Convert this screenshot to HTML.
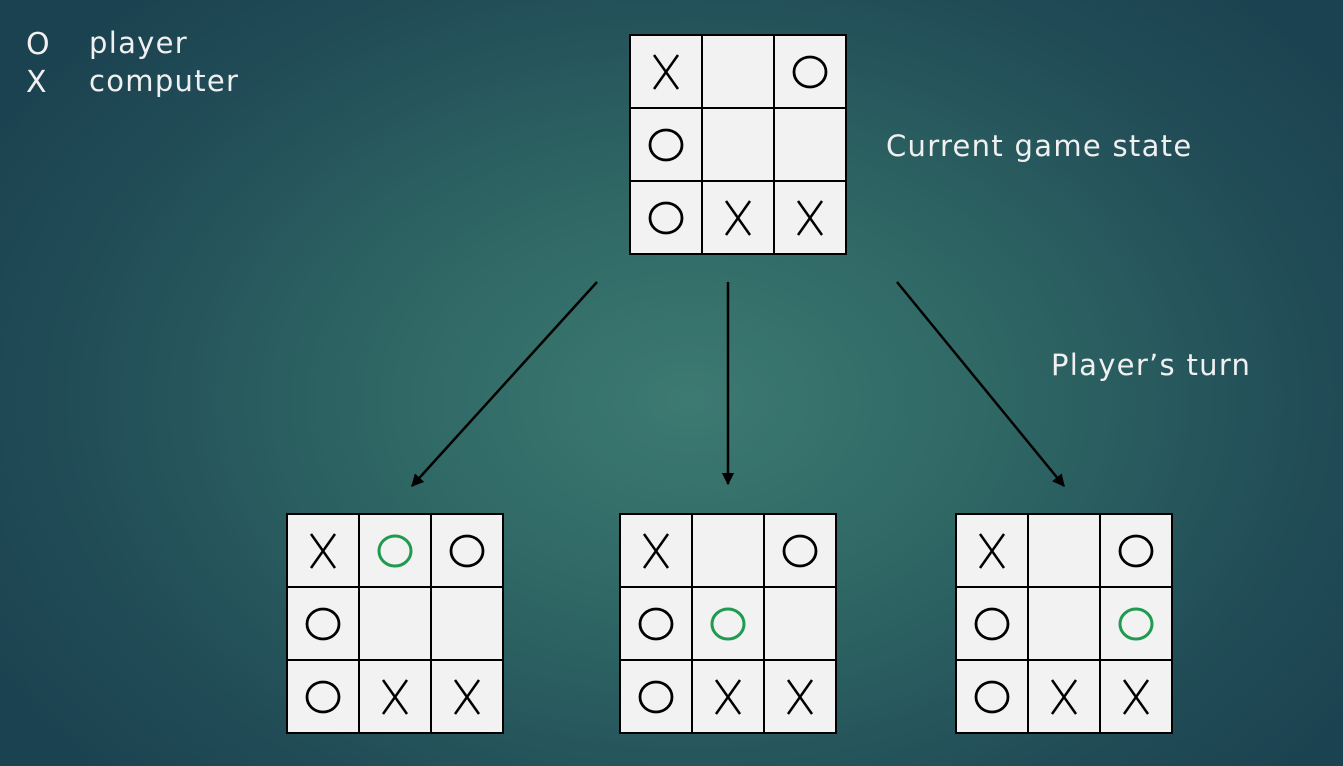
<!DOCTYPE html>
<html><head><style>
html,body{margin:0;padding:0;}
body{width:1343px;height:766px;overflow:hidden;background:radial-gradient(ellipse 800px 560px at 690px 400px,#3d7a72 0%,#2e6664 40%,#224e58 75%,#1b4250 100%);font-family:"DejaVu Sans","Liberation Sans",sans-serif;}
svg{position:absolute;left:0;top:0;}
</style></head><body>
<svg width="1343" height="766" xmlns="http://www.w3.org/2000/svg">
<defs>
<marker id="ah" viewBox="0 0 10 10" refX="9" refY="5" markerWidth="5" markerHeight="5" orient="auto"><path d="M0,0 L10,5 L0,10 z" fill="#000"/></marker>
<g id="X"><line x1="-12" y1="-17" x2="12" y2="17" stroke="#000" stroke-width="2.5"/><line x1="12" y1="-17" x2="-12" y2="17" stroke="#000" stroke-width="2.5"/></g>
<ellipse id="O" cx="0" cy="0" rx="16" ry="15" fill="none" stroke="#000" stroke-width="2.8"/>
<ellipse id="G" cx="0" cy="0" rx="16" ry="15" fill="none" stroke="#1f9a4f" stroke-width="3"/>
<g id="board">
<rect x="0" y="0" width="216" height="219" fill="#f2f2f2" stroke="#000" stroke-width="2"/>
<line x1="72" y1="0" x2="72" y2="219" stroke="#000" stroke-width="2"/>
<line x1="144" y1="0" x2="144" y2="219" stroke="#000" stroke-width="2"/>
<line x1="0" y1="73" x2="216" y2="73" stroke="#000" stroke-width="2"/>
<line x1="0" y1="146" x2="216" y2="146" stroke="#000" stroke-width="2"/>
<use href="#X" x="36" y="37"/><use href="#O" x="180" y="37"/>
<use href="#O" x="36" y="110"/>
<use href="#O" x="36" y="183"/><use href="#X" x="108" y="183"/><use href="#X" x="180" y="183"/>
</g>
</defs>
<use href="#board" x="630" y="35"/>
<use href="#board" x="287" y="514"/><use href="#G" x="395" y="551"/>
<use href="#board" x="620" y="514"/><use href="#G" x="728" y="624"/>
<use href="#board" x="956" y="514"/><use href="#G" x="1136" y="624"/>
<line x1="597" y1="282" x2="412" y2="486" stroke="#000" stroke-width="2.5" marker-end="url(#ah)"/>
<line x1="728" y1="282" x2="728" y2="484" stroke="#000" stroke-width="2.5" marker-end="url(#ah)"/>
<line x1="897" y1="282" x2="1064" y2="486" stroke="#000" stroke-width="2.5" marker-end="url(#ah)"/>
<g fill="#f0f0f0" font-family="'DejaVu Sans','Liberation Sans',sans-serif" font-size="29" letter-spacing="1.3">
<text x="26" y="54" font-size="30">O</text><text x="89" y="53">player</text>
<text x="26" y="92" font-size="30">X</text><text x="89" y="91">computer</text>
<text x="886" y="156">Current game state</text>
<text x="1051" y="375">Player’s turn</text>
</g>
</svg>
</body></html>
